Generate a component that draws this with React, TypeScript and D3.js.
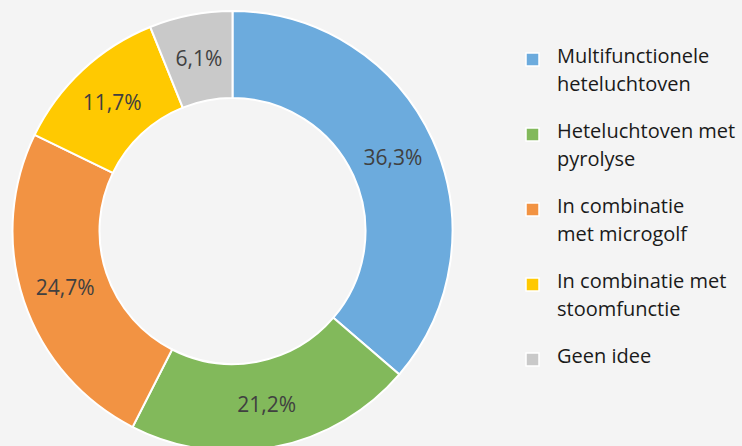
import React, { useRef, useEffect } from 'react';
import * as d3 from 'd3';

const categories = [
  ['Multifunctionele', 'heteluchtoven'],
  ['Heteluchtoven met', 'pyrolyse'],
  ['In combinatie', 'met microgolf'],
  ['In combinatie met', 'stoomfunctie'],
  ['Geen idee'],
];
const values = [36.3, 21.2, 24.7, 11.7, 6.1];
const colors = ['#6cabdd', '#82b95b', '#f29343', '#ffc901', '#c9c9c9'];

const width = 742;
const height = 446;

const App: React.FC = () => {
  const svgRef = useRef<SVGSVGElement>(null);

  useEffect(() => {
    if (!svgRef.current) return;
    const svg = d3.select(svgRef.current);
    svg.selectAll('*').remove();

    svg.append('rect')
      .attr('width', width)
      .attr('height', height)
      .attr('fill', '#f4f4f4');

    const cx = 232.5;
    const cy = 231;
    const outerR = 220;
    const innerR = 133;

    const pie = d3.pie<number>().sort(null).value(d => d);
    const arcs = pie(values);
    const arc = d3.arc<d3.PieArcDatum<number>>()
      .innerRadius(innerR)
      .outerRadius(outerR);

    const g = svg.append('g').attr('transform', `translate(${cx},${cy})`);

    g.selectAll('path.slice')
      .data(arcs)
      .join('path')
      .attr('class', 'slice')
      .attr('d', arc)
      .attr('fill', (_, i) => colors[i])
      .attr('stroke', '#ffffff')
      .attr('stroke-width', 2);

    // percentage labels in the middle of the ring
    g.selectAll('text.label')
      .data(arcs)
      .join('text')
      .attr('class', 'label')
      .attr('transform', d => `translate(${arc.centroid(d)})`)
      .attr('text-anchor', 'middle')
      .attr('dominant-baseline', 'central')
      .attr('font-family', '"Open Sans", sans-serif')
      .attr('font-size', '21px')
      .attr('fill', '#404040')
      .text(d => d3.format('.1f')(d.data).replace('.', ',') + '%');

    // legend
    const legend = svg.append('g');
    const rowY = d3.scaleLinear().domain([0, 4]).range([63, 363]);

    categories.forEach((lines, i) => {
      const y = rowY(i);
      legend.append('rect')
        .attr('x', 526)
        .attr('y', y - 10)
        .attr('width', 13)
        .attr('height', 13)
        .attr('fill', colors[i])
        .attr('stroke', '#ffffff')
        .attr('stroke-width', 1.5);

      const t = legend.append('text')
        .attr('x', 557)
        .attr('y', y)
        .attr('font-family', '"Open Sans", sans-serif')
        .attr('font-size', '20px')
        .attr('fill', '#1a1a1a');
      lines.forEach((line, j) => {
        t.append('tspan')
          .attr('x', 557)
          .attr('y', y + j * 27.5)
          .text(line);
      });
    });
  }, []);

  return (
    <svg
      ref={svgRef}
      width={width}
      height={height}
      style={{ position: 'absolute', left: 0, top: 0, display: 'block' }}
    />
  );
};

export default App;
